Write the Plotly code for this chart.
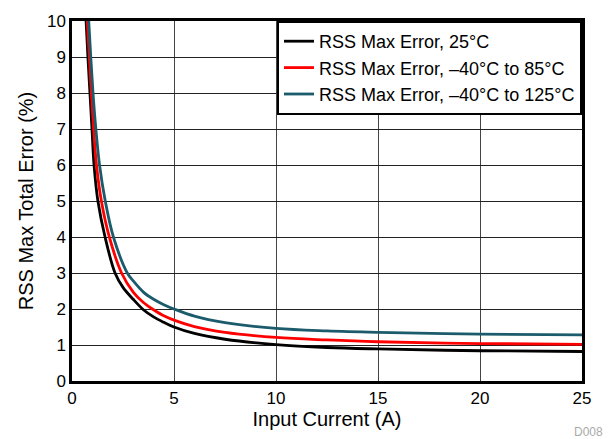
import plotly.graph_objects as go

# values
x_25 = [0.69, 0.78, 0.88, 0.98, 1.08, 1.27, 1.62, 2.11, 2.5, 3, 3.5, 4, 4.5, 5, 6, 7.5, 10, 12.5, 15, 20, 25]
y_25 = [10, 9, 8, 7, 6, 5, 4, 3, 2.6, 2.27, 1.98, 1.78, 1.63, 1.5, 1.32, 1.16, 1.01, 0.93, 0.89, 0.84, 0.82]

x_85 = [0.75, 0.85, 0.95, 1.06, 1.2, 1.44, 1.83, 2.43, 3, 3.5, 4, 4.5, 5, 6, 7.5, 10, 12.5, 15, 20, 25]
y_85 = [10, 9, 8, 7, 6, 5, 4, 3, 2.47, 2.18, 1.98, 1.81, 1.69, 1.51, 1.35, 1.21, 1.14, 1.09, 1.04, 1.02]

x_125 = [0.82, 0.92, 1.03, 1.17, 1.35, 1.63, 2.03, 2.71, 3, 3.5, 4, 4.5, 5, 6, 7.5, 10, 12.5, 15, 20, 25]
y_125 = [10, 9, 8, 7, 6, 5, 4, 3, 2.78, 2.47, 2.27, 2.12, 2.0, 1.8, 1.62, 1.46, 1.39, 1.35, 1.3, 1.28]

names = ['RSS Max Error, 25°C', 'RSS Max Error, –40°C to 85°C', 'RSS Max Error, –40°C to 125°C']
colors = ['#000000', '#ff0000', '#1b5b6b']

fig = go.Figure()
for xs, ys, name, c in zip([x_25, x_85, x_125], [y_25, y_85, y_125], names, colors):
    fig.add_trace(go.Scatter(x=xs, y=ys, name=name, mode='lines',
                             line=dict(color=c, width=2.8, shape='spline', smoothing=1.0)))

# page body has an 8px margin, so the figure is shrunk by that much
fig.update_layout(
    width=605, height=431,
    margin=dict(l=64, r=31, t=13, b=58),
    plot_bgcolor='white', paper_bgcolor='white',
    font=dict(family='Liberation Sans, Arial, sans-serif', size=17, color='black'),
    showlegend=True,
    legend=dict(x=1, y=1, xanchor='right', yanchor='top', bgcolor='white',
                bordercolor='black', borderwidth=2, font=dict(size=18),
                tracegroupgap=0),
)
fig.update_xaxes(range=[0, 25], dtick=5, showgrid=True, gridcolor='#444', gridwidth=1,
                 showline=True, linecolor='black', linewidth=2.5, mirror=True,
                 zeroline=False, ticks='', automargin=False,
                 title=dict(text='Input Current (A)', standoff=4))
fig.update_yaxes(range=[0, 10], dtick=1, showgrid=True, gridcolor='#222', gridwidth=1,
                 showline=True, linecolor='black', linewidth=2.5, mirror=True,
                 zeroline=False, ticks='', automargin=False,
                 title=dict(text='RSS Max Total Error (%)', standoff=8))

fig.add_annotation(text='D008', xref='paper', yref='paper', x=1.045, y=-0.142,
                   xanchor='right', yanchor='middle', showarrow=False,
                   font=dict(size=12, color='#aaa'))

fig.write_html("out.html")
